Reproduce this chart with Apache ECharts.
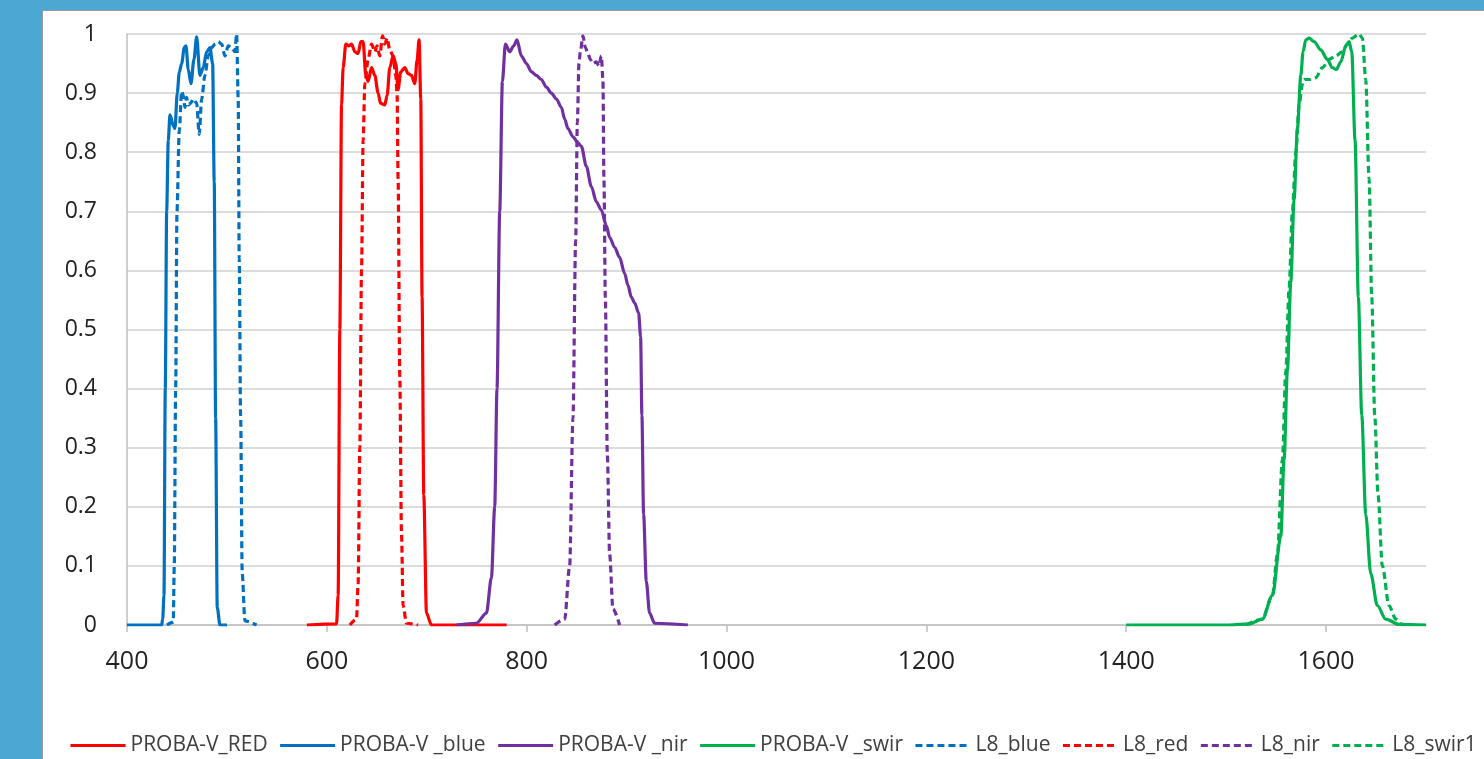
<!DOCTYPE html>
<html>
<head>
<meta charset="utf-8">
<script src="https://cdn.jsdelivr.net/npm/echarts@6/dist/echarts.min.js"></script>
<style>
  html, body { margin: 0; padding: 0; width: 1484px; height: 759px; overflow: hidden; background: #4BA8D3; }
  #panel { position: absolute; left: 42px; top: 10px; right: 0; bottom: 0; background: #ffffff; border-left: 1px solid #9a9a9a; border-top: 1px solid #9a9a9a; }
  #chart { position: absolute; left: 0; top: 0; width: 1484px; height: 759px; }
</style>
</head>
<body>
<div id="panel"></div>
<div id="chart"></div>
<script>
// Wavelength (nm) vs relative spectral response
const xTicks = [400, 600, 800, 1000, 1200, 1400, 1600];
const yTicks = [0, 0.1, 0.2, 0.3, 0.4, 0.5, 0.6, 0.7, 0.8, 0.9, 1];
const seriesNames = ['PROBA-V_RED', 'PROBA-V _blue', 'PROBA-V _nir', 'PROBA-V _swir', 'L8_blue', 'L8_red', 'L8_nir', 'L8_swir1'];

const pvRed = [[580,0],[609.7,0.002],[611.3,0.05],[613,0.5],[614.7,0.88],[616.3,0.943],[619,0.983],[622.3,0.98],[624.7,0.983],[628,0.97],[631.3,0.967],[634,0.987],[636.3,0.987],[639,0.93],[641.3,0.92],[644.7,0.943],[648,0.93],[651.3,0.9],[653.7,0.883],[658,0.88],[660.3,0.896],[663,0.943],[666.3,0.963],[669,0.95],[671.3,0.906],[674,0.936],[678,0.943],[681.3,0.933],[684.7,0.93],[688,0.916],[690.3,0.956],[692.3,0.99],[694,0.89],[695.3,0.555],[697,0.22],[699.7,0.02],[704.7,0],[780,0]];

const pvBlue = [[400,0],[434.7,0],[435.7,0.01],[437,0.05],[438.3,0.4],[439.7,0.7],[441.3,0.82],[443,0.863],[446.3,0.845],[448,0.84],[450.3,0.9],[452.3,0.935],[454.7,0.95],[457.3,0.977],[459,0.98],[461.3,0.94],[464,0.916],[467,0.957],[469.7,0.995],[473,0.93],[476.3,0.943],[479.7,0.97],[483,0.977],[485.7,0.95],[487.3,0.75],[488.7,0.35],[490.3,0.03],[493,0],[500,0]];

const pvNir = [[729.7,0],[749.7,0.003],[759.7,0.02],[764.7,0.08],[768,0.2],[770.3,0.4],[773,0.7],[775.7,0.92],[778.7,0.983],[783,0.97],[787,0.98],[790.3,0.99],[794.7,0.963],[799.7,0.95],[804.7,0.936],[809.7,0.93],[814.7,0.923],[819.7,0.91],[824.7,0.9],[829.7,0.89],[834.7,0.876],[838,0.856],[841.3,0.84],[846.3,0.826],[851.3,0.816],[854.7,0.81],[859.7,0.776],[864.7,0.742],[869.7,0.716],[874.7,0.702],[879.7,0.676],[883,0.656],[888,0.639],[893,0.622],[898,0.595],[901.3,0.575],[904.7,0.555],[908,0.545],[912,0.528],[914,0.488],[915.3,0.355],[917,0.187],[919.7,0.074],[923,0.02],[928,0.003],[961.3,0]];

const pvSwir = [[1400,0],[1503,0],[1523,0.002],[1536.3,0.01],[1546.3,0.05],[1554.7,0.15],[1558,0.28],[1561.3,0.43],[1564.7,0.58],[1568,0.72],[1571.3,0.84],[1574.7,0.93],[1577,0.97],[1579.7,0.99],[1583,0.993],[1588,0.987],[1594.7,0.973],[1601.3,0.957],[1606.3,0.943],[1610.3,0.94],[1614.7,0.953],[1619.7,0.98],[1623,0.987],[1625.7,0.97],[1629,0.82],[1632.3,0.555],[1635.7,0.355],[1639.7,0.187],[1644.7,0.087],[1651.3,0.033],[1659.7,0.01],[1673,0.001],[1700,0]];

const l8Blue = [[440,0],[446.3,0.005],[447.3,0.1],[448.7,0.4],[450,0.7],[452.3,0.836],[454.7,0.903],[456.3,0.896],[458,0.876],[459.7,0.893],[461.3,0.88],[463.7,0.883],[466.3,0.89],[469.7,0.883],[472.3,0.83],[474.7,0.89],[478,0.93],[481.3,0.963],[484.7,0.977],[488,0.983],[491.3,0.987],[494.7,0.983],[498,0.963],[501.3,0.98],[504.7,0.977],[508,0.97],[509.7,1.0],[511.3,0.89],[512.3,0.62],[513.7,0.355],[515.3,0.087],[518,0.007],[529.7,0]];

const l8Red = [[623,0],[629.7,0.01],[631.3,0.07],[633,0.3],[634.7,0.6],[636.3,0.82],[638,0.916],[641.3,0.957],[644.7,0.983],[648,0.97],[650.3,0.98],[653,0.963],[655.7,0.997],[658,0.983],[660.3,0.993],[663,0.973],[666.3,0.963],[669,0.93],[670.3,0.896],[671.3,0.756],[673,0.421],[674.7,0.154],[676.3,0.033],[679.7,0.003],[691.3,0]];

const l8Nir = [[828,0],[838,0.01],[843,0.1],[846.3,0.35],[849,0.65],[850.7,0.85],[852.3,0.95],[853.7,0.97],[856.3,0.997],[858.7,0.977],[861.3,0.967],[863.7,0.957],[866.3,0.95],[869.7,0.953],[872.3,0.946],[874.7,0.963],[876.3,0.923],[877.3,0.756],[878.7,0.555],[880.7,0.288],[883,0.12],[886.3,0.027],[893,0]];

const l8Swir1 = [[1520,0],[1536,0.01],[1546.3,0.05],[1551.3,0.12],[1556.3,0.28],[1559.7,0.43],[1563,0.57],[1566.3,0.7],[1569.7,0.8],[1573,0.88],[1576.3,0.915],[1578,0.923],[1583,0.923],[1589.7,0.926],[1596.3,0.943],[1603,0.957],[1609.7,0.963],[1616.3,0.97],[1621.3,0.983],[1626.3,0.993],[1633,1.0],[1636.3,0.993],[1639.7,0.923],[1643,0.756],[1645.7,0.555],[1648.7,0.355],[1652,0.22],[1656.3,0.1],[1663,0.033],[1669.7,0.01],[1676.3,0.001],[1682,0]];

const colors = { red: '#FF0000', blue: '#0070C0', purple: '#7030A0', green: '#00B050' };
const FONT = '"Open Sans", "Noto Sans", sans-serif';

function mk(name, data, color, dashed) {
  return {
    name: name, type: 'line', data: data, symbol: 'none', smooth: 0.3, smoothMonotone: 'x',
    lineStyle: { color: color, width: 3.2, type: dashed ? [7, 4] : 'solid' },
    itemStyle: { color: color },
    emphasis: { disabled: true }, animation: false
  };
}

const chart = echarts.init(document.getElementById('chart'), null, { renderer: 'canvas' });
chart.setOption({
  backgroundColor: 'transparent',
  animation: false,
  grid: { left: 127, right: 58, top: 34, bottom: 134, containLabel: false },
  legend: {
    data: seriesNames, left: 64, top: 730, width: 1418, itemWidth: 55, itemHeight: 12, itemGap: 11,
    itemStyle: { opacity: 0 },
    lineStyle: { width: 3 },
    textStyle: { fontFamily: FONT, fontSize: 21, color: '#404040' },
    selectedMode: false
  },
  xAxis: {
    type: 'value', min: 400, max: 1700, interval: 200,
    axisLine: { show: true, lineStyle: { color: '#BFBFBF', width: 1.5 } },
    axisTick: { show: true, length: 7, lineStyle: { color: '#BFBFBF', width: 1.5 }, customValues: xTicks },
    axisLabel: { fontFamily: FONT, fontSize: 25, color: '#222222', margin: 24, customValues: xTicks,
      formatter: function (v) { return String(v); } },
    splitLine: { show: false }
  },
  yAxis: {
    type: 'value', min: 0, max: 1, interval: 0.1,
    axisLine: { show: true, lineStyle: { color: '#BFBFBF', width: 1.5 } },
    axisTick: { show: false },
    axisLabel: { fontFamily: FONT, fontSize: 23, color: '#222222', margin: 30, customValues: yTicks },
    splitLine: { show: true, lineStyle: { color: '#D0D0D0', width: 1.5 } }
  },
  series: [
    mk(seriesNames[0], pvRed, colors.red, false),
    mk(seriesNames[1], pvBlue, colors.blue, false),
    mk(seriesNames[2], pvNir, colors.purple, false),
    mk(seriesNames[3], pvSwir, colors.green, false),
    mk(seriesNames[4], l8Blue, colors.blue, true),
    mk(seriesNames[5], l8Red, colors.red, true),
    mk(seriesNames[6], l8Nir, colors.purple, true),
    mk(seriesNames[7], l8Swir1, colors.green, true)
  ]
});
</script>
</body>
</html>
